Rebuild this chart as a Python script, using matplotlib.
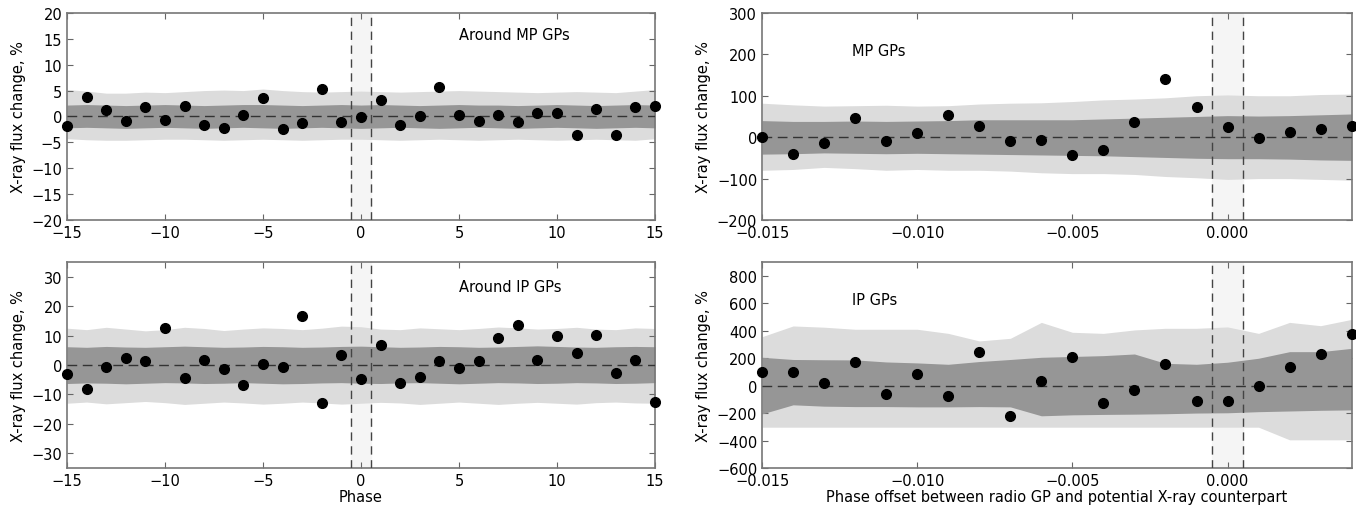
import numpy as np
import matplotlib
matplotlib.use('Agg')
import matplotlib.pyplot as plt

# phase bins (left column) and phase offsets (right column)
phase = list(range(-15, 16))
offset = [-0.015, -0.014, -0.013, -0.012, -0.011, -0.010, -0.009, -0.008, -0.007, -0.006,
          -0.005, -0.004, -0.003, -0.002, -0.001, 0.000, 0.001, 0.002, 0.003, 0.004]

# around MP GPs
mp_phase_vals = [-1.8, 3.7, 1.2, -0.9, 1.8, -0.6, 2.1, -1.7, -2.2, 0.2, 3.5, -2.5, -1.2, 5.3, -1.0, -0.2,
                 3.2, -1.7, 0.0, 5.6, 0.2, -0.9, 0.3, -1.1, 0.6, 0.6, -3.6, 1.4, -3.6, 1.9, 2.1]
mp_phase_1s_hi = [2.2, 2.3, 2.2, 2.1, 2.2, 2.3, 2.2, 2.1, 2.2, 2.3, 2.3, 2.2, 2.1, 2.2, 2.3, 2.2,
                  2.3, 2.2, 2.1, 2.2, 2.3, 2.2, 2.2, 2.1, 2.2, 2.3, 2.2, 2.1, 2.2, 2.3, 2.2]
mp_phase_1s_lo = [-2.2, -2.1, -2.2, -2.3, -2.2, -2.1, -2.2, -2.3, -2.2, -2.1, -2.2, -2.3, -2.2, -2.1, -2.2, -2.3,
                  -2.2, -2.1, -2.2, -2.3, -2.2, -2.1, -2.2, -2.3, -2.2, -2.1, -2.2, -2.3, -2.2, -2.1, -2.2]
mp_phase_2s_hi = [5.2, 4.9, 4.5, 4.5, 4.7, 4.6, 4.8, 5.0, 5.1, 5.0, 5.3, 5.0, 4.8, 4.7, 4.8, 4.9,
                  4.8, 4.7, 4.8, 4.9, 5.0, 4.9, 4.8, 4.7, 4.6, 4.7, 4.8, 4.7, 4.6, 4.9, 5.2]
mp_phase_2s_lo = [-4.3, -4.5, -4.6, -4.6, -4.5, -4.4, -4.4, -4.5, -4.6, -4.5, -4.4, -4.5, -4.6, -4.5, -4.4, -4.4,
                  -4.5, -4.6, -4.5, -4.4, -4.5, -4.6, -4.5, -4.4, -4.5, -4.6, -4.5, -4.4, -4.5, -4.6, -4.3]

# around IP GPs
ip_phase_vals = [-2.9, -8.0, -0.7, 2.5, 1.5, 12.7, -4.4, 1.8, -1.2, -6.8, 0.5, -0.8, 16.7, -12.9, 3.5, -4.7,
                 6.7, -6.0, -4.2, 1.4, -0.9, 1.2, 9.0, 13.5, 1.8, 10.0, 4.2, 10.3, -2.6, 1.6, -12.5]
ip_phase_1s_hi = [6.2, 6.0, 6.3, 6.1, 6.0, 6.2, 6.4, 6.2, 6.0, 6.1, 6.3, 6.2, 6.0, 6.1, 6.3, 6.4,
                  6.2, 6.0, 6.1, 6.3, 6.2, 6.0, 6.1, 6.3, 6.5, 6.3, 6.1, 6.0, 6.2, 6.3, 6.2]
ip_phase_1s_lo = [-6.3, -6.1, -6.2, -6.4, -6.2, -6.0, -6.1, -6.3, -6.2, -6.0, -6.2, -6.4, -6.3, -6.1, -6.0, -6.2,
                  -6.3, -6.1, -6.0, -6.2, -6.4, -6.2, -6.0, -6.1, -6.3, -6.2, -6.0, -6.1, -6.3, -6.2, -6.0]
ip_phase_2s_hi = [12.5, 12.0, 12.8, 12.2, 11.6, 12.0, 12.8, 12.4, 11.7, 12.2, 12.6, 12.4, 12.0, 12.5, 13.2, 13.0,
                  12.2, 12.0, 12.6, 12.3, 12.0, 12.4, 12.9, 12.6, 12.2, 12.4, 12.8, 12.2, 12.0, 12.6, 12.4]
ip_phase_2s_lo = [-13.0, -12.6, -13.2, -12.8, -12.4, -12.8, -13.4, -13.0, -12.6, -12.9, -13.3, -13.0, -12.6, -12.9, -13.3, -13.0,
                  -12.7, -12.9, -13.4, -13.0, -12.6, -13.0, -13.4, -13.0, -12.7, -13.0, -13.3, -12.8, -12.6, -12.9, -13.0]

# MP GPs vs offset
mp_off_vals = [0, -41, -15, 46, -10, 9, 54, 28, -10, -6, -43, -32, 37, 141, 74, 24, -3, 13, 20, 27]
mp_off_1s_hi = [40, 38, 38, 39, 38, 39, 40, 42, 42, 42, 42, 44, 46, 48, 50, 52, 51, 52, 54, 56]
mp_off_1s_lo = [-41, -40, -38, -39, -40, -39, -40, -41, -42, -43, -44, -45, -47, -49, -51, -52, -52, -53, -55, -56]
mp_off_2s_hi = [82, 78, 75, 76, 77, 75, 76, 80, 82, 83, 86, 90, 92, 95, 100, 102, 100, 100, 103, 104]
mp_off_2s_lo = [-80, -78, -73, -76, -80, -78, -80, -80, -82, -86, -88, -88, -90, -95, -98, -102, -100, -100, -102, -104]

# IP GPs vs offset
ip_off_vals = [102, 102, 19, 170, -63, 87, -75, 242, -218, 36, 211, -128, -34, 155, -114, -111, -5, 136, 230, 373]
ip_off_1s_hi = [206, 190, 188, 187, 172, 165, 155, 175, 190, 206, 212, 218, 230, 162, 155, 170, 199, 247, 247, 271]
ip_off_1s_lo = [-206, -140, -150, -153, -153, -155, -155, -153, -155, -220, -213, -210, -208, -205, -200, -198, -190, -185, -180, -177]
ip_off_2s_hi = [356, 434, 425, 410, 410, 410, 380, 325, 344, 460, 388, 380, 405, 417, 417, 427, 380, 460, 436, 482]
ip_off_2s_lo = [-303, -303, -303, -303, -303, -303, -303, -303, -303, -303, -303, -303, -303, -303, -303, -303, -303, -395, -395, -395]

LIGHT = '#dcdcdc'
DARK = '#969696'
SPAN = '#f5f5f5'


def panel(ax, x, vals, s1_lo, s1_hi, s2_lo, s2_hi, half, label, lx, ly):
    ax.axvspan(-half, half, color=SPAN, zorder=0)
    ax.fill_between(x, s2_lo, s2_hi, color=LIGHT, lw=0, zorder=1)
    ax.fill_between(x, s1_lo, s1_hi, color=DARK, lw=0, zorder=2)
    ax.axhline(0, color='#333333', ls=(0, (7, 4)), lw=1, zorder=3)
    ax.axvline(-half, color='#444444', ls=(0, (6, 4)), lw=1, zorder=3)
    ax.axvline(half, color='#444444', ls=(0, (6, 4)), lw=1, zorder=3)
    ax.plot(x, vals, 'o', color='black', ms=7, zorder=5, clip_on=False)
    ax.text(lx, ly, label, transform=ax.transAxes, fontsize=10.5, va='center', ha='left')
    ax.set_ylabel('X-ray flux change, %', fontsize=10.5)
    ax.tick_params(direction='in', top=True, right=True, labelsize=10.5, length=4, color='#666666')
    for s in ax.spines.values():
        s.set_color('#777777')
        s.set_linewidth(1.2)


fig = plt.figure(figsize=(13.56, 5.1), dpi=100)
ax1 = fig.add_axes([0.0494, 0.5667, 0.4336, 0.406])
ax2 = fig.add_axes([0.562, 0.5667, 0.4348, 0.406])
ax3 = fig.add_axes([0.0494, 0.0804, 0.4336, 0.404])
ax4 = fig.add_axes([0.562, 0.0804, 0.4348, 0.404])

panel(ax1, phase, mp_phase_vals, mp_phase_1s_lo, mp_phase_1s_hi, mp_phase_2s_lo, mp_phase_2s_hi,
      0.5, 'Around MP GPs', 0.667, 0.895)
ax1.set_xlim(-15, 15)
ax1.set_ylim(-20, 20)
ax1.set_xticks([-15, -10, -5, 0, 5, 10, 15])
ax1.set_yticks(np.arange(-20, 21, 5))

panel(ax2, offset, mp_off_vals, mp_off_1s_lo, mp_off_1s_hi, mp_off_2s_lo, mp_off_2s_hi,
      0.0005, 'MP GPs', 0.153, 0.82)
ax2.set_xlim(-0.015, 0.004)
ax2.set_ylim(-200, 300)
ax2.set_xticks([-0.015, -0.010, -0.005, 0.000])
ax2.set_xticklabels(['\u22120.015', '\u22120.010', '\u22120.005', '0.000'])
ax2.set_yticks(np.arange(-200, 301, 100))

panel(ax3, phase, ip_phase_vals, ip_phase_1s_lo, ip_phase_1s_hi, ip_phase_2s_lo, ip_phase_2s_hi,
      0.5, 'Around IP GPs', 0.667, 0.88)
ax3.set_xlim(-15, 15)
ax3.set_ylim(-35, 35)
ax3.set_xticks([-15, -10, -5, 0, 5, 10, 15])
ax3.set_yticks(np.arange(-30, 31, 10))
ax3.set_xlabel('Phase', fontsize=10.5, labelpad=1)

panel(ax4, offset, ip_off_vals, ip_off_1s_lo, ip_off_1s_hi, ip_off_2s_lo, ip_off_2s_hi,
      0.0005, 'IP GPs', 0.153, 0.817)
ax4.set_xlim(-0.015, 0.004)
ax4.set_ylim(-600, 900)
ax4.set_xticks([-0.015, -0.010, -0.005, 0.000])
ax4.set_xticklabels(['\u22120.015', '\u22120.010', '\u22120.005', '0.000'])
ax4.set_yticks(np.arange(-600, 801, 200))
ax4.set_xlabel('Phase offset between radio GP and potential X-ray counterpart', fontsize=10.5, labelpad=1)

fig.savefig('out.png', dpi=100)
